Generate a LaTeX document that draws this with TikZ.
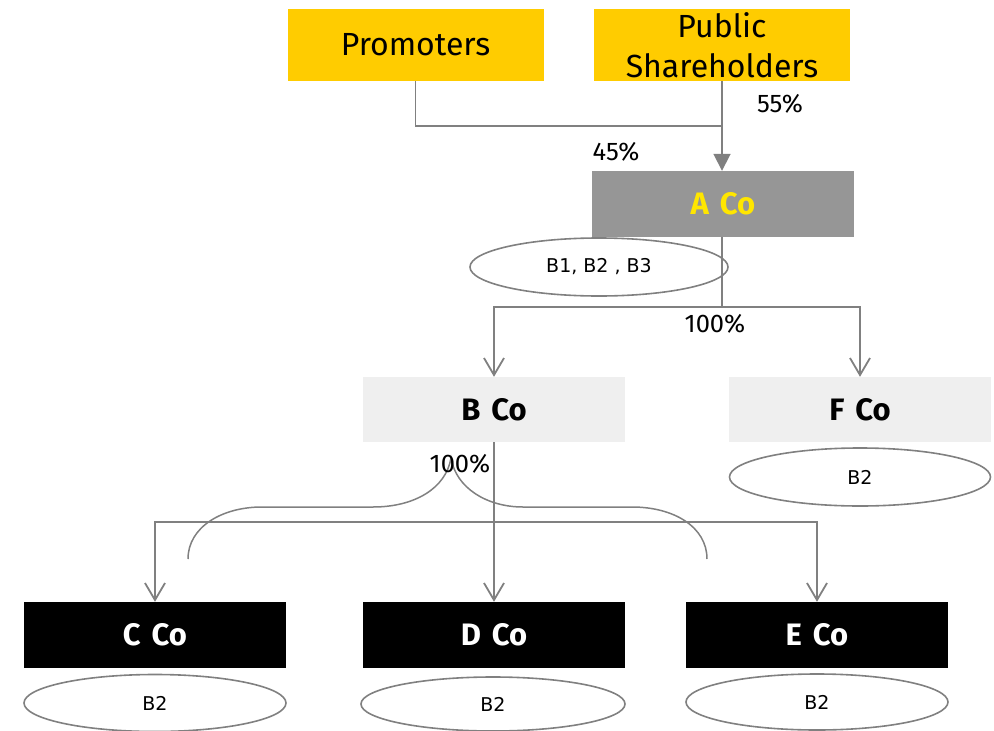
\documentclass[tikz,border=0pt]{standalone}
\usepackage{fontspec}
\setmainfont{Fira Sans}
\newfontfamily\labelfont{DejaVu Sans}
\usetikzlibrary{shapes.geometric,arrows.meta}

\definecolor{eyyellow}{HTML}{FFCC00}
\definecolor{eytext}{HTML}{FFE600}
\definecolor{midgray}{HTML}{969696}
\definecolor{palegray}{HTML}{EFEFEF}
\definecolor{linegray}{HTML}{808080}

% wider word space for the company names
\newcommand\cowidespace{\spaceskip=11pt\relax}

\tikzset{
  box/.style={rectangle, inner sep=0pt, minimum width=262pt, minimum height=66pt, align=center},
  holder/.style={box, fill=eyyellow, font=\fontsize{32}{40}\selectfont, minimum height=72pt, minimum width=256pt},
  cofont/.style={font=\fontsize{31}{36}\selectfont\bfseries\cowidespace},
  topco/.style={box, cofont, fill=midgray, text=eytext},
  midco/.style={box, cofont, fill=palegray, text=black, minimum height=65pt},
  subco/.style={box, cofont, fill=black, text=white},
  bubble/.style={ellipse, draw=linegray, line width=1.6pt, inner sep=0pt, font=\labelfont\fontsize{19}{22}\selectfont},
  link/.style={draw=linegray, line width=1.8pt},
  solidhead/.style={link, -{Triangle[length=17pt,width=17pt]}},
  openhead/.style={link, -{Straight Barb[length=17pt,width=20pt]}},
  pct/.style={font=\fontsize{25.5}{30}\selectfont, inner sep=0pt},
}

\begin{document}
\begin{tikzpicture}[x=1pt, y=-1pt]
  \useasboundingbox (0,0) rectangle (994,731);

  % shareholders
  \node[holder] (prom) at (415.5,45) {Promoters};
  \node[holder] (pub) at (722,45) {Public\\Shareholders};

  % parent company and its holdings
  \node[topco] (aco) at (723,204) {A Co};
  \node[bubble, minimum width=258pt, minimum height=58pt] (ea) at (599,267) {B1, B2 , B3};

  % first tier
  \node[midco] (bco) at (494,409.5) {B Co};
  \node[midco] (fco) at (860,409.5) {F Co};
  \node[bubble, minimum width=261pt, minimum height=58pt] (ef) at (860,477) {\raisebox{-2pt}{B2}};

  % second tier
  \node[subco] (cco) at (155,635) {C Co};
  \node[subco] (dco) at (494,635) {D Co};
  \node[subco] (eco) at (817,635) {E Co};
  \node[bubble, minimum width=262pt, minimum height=57pt] (ec) at (155,703) {\raisebox{-2pt}{B2}};
  \node[bubble, minimum width=264pt, minimum height=54pt] (ed) at (493,704) {\raisebox{-4pt}{B2}};
  \node[bubble, minimum width=262pt, minimum height=56pt] (ee) at (817,702) {\raisebox{-2pt}{B2}};

  % junction points
  \coordinate (j1) at (722,126);
  \coordinate (j2) at (722,307);
  \coordinate (j3) at (494,522);

  % ownership of A Co
  \draw[link] (prom.south) |- (j1);
  \draw[solidhead] (pub.south) -- (pub.south |- aco.north);

  % A Co to first tier
  \draw[link] (aco.south -| j2) -- (j2);
  \draw[openhead] (j2) -| (bco.north);
  \draw[openhead] (j2) -| (fco.north);

  % B Co to second tier
  \draw[openhead] (bco.south) -- (dco.north);
  \draw[openhead] (j3) -| (cco.north);
  \draw[openhead] (j3) -| (eco.north);
  \draw[link] (j3) -- (cco.north |- j3);

  % brace over the subsidiaries of B Co
  \draw[draw=linegray, line width=1.5pt]
    (188,559) .. controls (188,527) and (222,507) .. (262,507)
    -- (373,507) .. controls (415,507) and (446,488) .. (451,458)
    .. controls (456,488) and (487,507) .. (523,507)
    -- (632,507) .. controls (674,507) and (707,527) .. (707,559);

  % percentages
  \node[pct] (p55) at (780,104) {55\%};
  \node[pct] (p45) at (616,152) {45\%};
  \node[pct] (p100a) at (715,324) {100\%};
  \node[pct] (p100b) at (460,464) {100\%};
\end{tikzpicture}
\end{document}
